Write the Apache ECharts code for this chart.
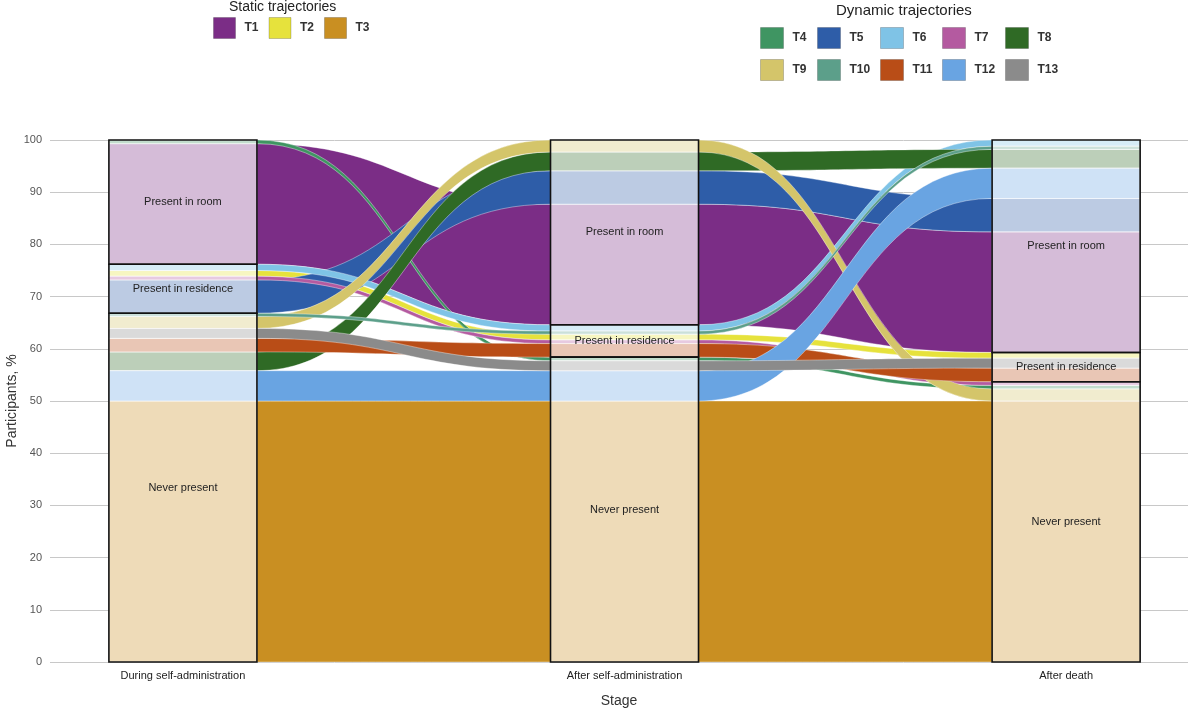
<!DOCTYPE html>
<html>
<head>
<meta charset="utf-8">
<script src="https://cdn.jsdelivr.net/npm/echarts@6/dist/echarts.min.js"></script>
<style>
  html, body { margin: 0; padding: 0; background: #fff; }
  #chart { width: 1200px; height: 714px; }
</style>
</head>
<body>
<div id="chart"></div>
<script>
// stages (x) and states inside each bar
var stages = ['During self-administration', 'After self-administration', 'After death'];
var states = ['Never present', 'Present in residence', 'Present in room'];

// trajectories: share of participants (%) and state at each stage (0 never, 1 residence, 2 room)
var trajNames = ['T1', 'T2', 'T3', 'T4', 'T5', 'T6', 'T7', 'T8', 'T9', 'T10', 'T11', 'T12', 'T13'];
var trajValues = [23.1, 1.1, 50, 0.7, 6.4, 1.2, 0.7, 3.6, 2.3, 0.6, 2.6, 5.8, 1.9];
var trajStates = [
    [2, 2, 2], [1, 1, 1], [0, 0, 0], [2, 0, 0], [1, 2, 2], [1, 1, 2], [1, 1, 0],
    [0, 2, 2], [0, 2, 0], [0, 1, 2], [0, 1, 1], [0, 0, 2], [0, 0, 1]
];
var trajColors = ['#7b2d86', '#e6e23c', '#c98f22', '#3f9562', '#2e5da8', '#7fc3e6', '#b45aa0',
    '#2f6a25', '#d4c56a', '#5c9f8a', '#b94d17', '#69a4e2', '#8b8b8b'];

// stacking order inside each bar, bottom to top (trajectory numbers)
var stackOrder = [
    [3, 12, 8, 11, 13, 9, 10, 5, 7, 2, 6, 1, 4],
    [3, 12, 13, 4, 11, 7, 2, 10, 6, 1, 5, 8, 9],
    [3, 9, 4, 7, 11, 13, 2, 1, 5, 12, 8, 10, 6]
];

// legend groups
var legendStatic = ['T1', 'T2', 'T3'];
var legendDynCols = [['T4', 'T9'], ['T5', 'T10'], ['T6', 'T11'], ['T7', 'T12'], ['T8', 'T13']];
var legendDynLeft = [760, 817, 880, 942, 1005];

var hw = 0.1676; // half width of a bar in x units

function light(hex, a) {
    var r = parseInt(hex.substr(1, 2), 16), g = parseInt(hex.substr(3, 2), 16), b = parseInt(hex.substr(5, 2), 16);
    var m = function (c) { return Math.round(c * a + 255 * (1 - a)); };
    return 'rgb(' + m(r) + ',' + m(g) + ',' + m(b) + ')';
}

// positions of every trajectory inside every bar
var pos = stackOrder.map(function (order) {
    var y = 0, p = {};
    order.forEach(function (t) {
        var i = t - 1;
        p[i] = [y, y + trajValues[i]];
        y += trajValues[i];
    });
    return p;
});

var segData = [];
pos.forEach(function (p, k) {
    for (var i in p) segData.push([k, p[i][0], p[i][1], +i]);
});

var blockData = [];
pos.forEach(function (p, k) {
    states.forEach(function (s, si) {
        var lo = 1e9, hi = -1e9;
        trajStates.forEach(function (st, i) {
            if (st[k] === si) { lo = Math.min(lo, p[i][0]); hi = Math.max(hi, p[i][1]); }
        });
        blockData.push([k, lo, hi, si]);
    });
});

function renderFlow(params, api) {
    var k = api.value(0);
    var xa = k + hw, xb = k + 1 - hw;
    var a0 = api.coord([xa, api.value(2)]), a1 = api.coord([xa, api.value(3)]);
    var b0 = api.coord([xb, api.value(4)]), b1 = api.coord([xb, api.value(5)]);
    var mx = (a0[0] + b0[0]) / 2;
    var d = 'M' + a1[0] + ',' + a1[1] +
        ' C' + mx + ',' + a1[1] + ' ' + mx + ',' + b1[1] + ' ' + b1[0] + ',' + b1[1] +
        ' L' + b0[0] + ',' + b0[1] +
        ' C' + mx + ',' + b0[1] + ' ' + mx + ',' + a0[1] + ' ' + a0[0] + ',' + a0[1] + ' Z';
    return {
        type: 'path',
        shape: { pathData: d },
        style: { fill: api.visual('color'), stroke: 'rgba(255,255,255,0.55)', lineWidth: 0.7 }
    };
}

function renderSeg(params, api) {
    var k = api.value(0);
    var p0 = api.coord([k - hw, api.value(2)]);
    var p1 = api.coord([k + hw, api.value(1)]);
    return {
        type: 'rect',
        shape: { x: p0[0], y: p0[1], width: p1[0] - p0[0], height: p1[1] - p0[1] },
        style: { fill: light(trajColors[api.value(3)], 0.32), stroke: '#fff', lineWidth: 0.6 }
    };
}

function renderBlock(params, api) {
    var k = api.value(0);
    var p0 = api.coord([k - hw, api.value(2)]);
    var p1 = api.coord([k + hw, api.value(1)]);
    return {
        type: 'group',
        children: [{
            type: 'rect',
            shape: { x: p0[0], y: p0[1], width: p1[0] - p0[0], height: p1[1] - p0[1] },
            style: { fill: 'none', stroke: '#111', lineWidth: 1.6 }
        }, {
            type: 'text',
            style: {
                text: states[api.value(3)], x: (p0[0] + p1[0]) / 2, y: (p0[1] + p1[1]) / 2,
                align: 'center', verticalAlign: 'middle', fill: '#222', fontSize: 11,
                fontFamily: 'Liberation Sans'
            }
        }]
    };
}

var series = [{
    type: 'custom',
    name: 'segments',
    renderItem: renderSeg,
    encode: { x: 0, y: [1, 2] },
    data: segData,
    z: 1
}];

trajNames.forEach(function (name, i) {
    var flows = [];
    for (var k = 0; k < 2; k++) {
        flows.push([k, k + 1, pos[k][i][0], pos[k][i][1], pos[k + 1][i][0], pos[k + 1][i][1]]);
    }
    series.push({
        type: 'custom',
        name: name,
        renderItem: renderFlow,
        encode: { x: [0, 1], y: [2, 3, 4, 5] },
        itemStyle: { color: trajColors[i] },
        data: flows,
        z: 2
    });
});

series.push({
    type: 'custom',
    name: 'blocks',
    renderItem: renderBlock,
    encode: { x: 0, y: [1, 2] },
    data: blockData,
    z: 3
});

var legendBase = {
    icon: 'rect',
    selectedMode: false,
    itemWidth: 23,
    itemHeight: 21,
    padding: 0,
    itemStyle: { borderColor: 'rgba(0,0,0,0.2)', borderWidth: 1 },
    textStyle: { fontSize: 12, fontWeight: 'bold', color: '#333', padding: [0, 0, 0, 4] }
};

var legends = [Object.assign({}, legendBase, {
    data: legendStatic, left: 213, top: 17, orient: 'horizontal', itemGap: 10, itemWidth: 22
})];
legendDynCols.forEach(function (col, c) {
    legends.push(Object.assign({}, legendBase, {
        data: col, left: legendDynLeft[c], top: 27, orient: 'vertical', itemGap: 10
    }));
});

var myChart = echarts.init(document.getElementById('chart'));
var option = {
    animation: false,
    textStyle: { fontFamily: 'Liberation Sans' },
    title: [{
        text: 'Static trajectories', left: 229, top: 0, padding: 0,
        textStyle: { fontSize: 14, fontWeight: 'normal', color: '#222' }
    }, {
        text: 'Dynamic trajectories', left: 836, top: 3, padding: 0,
        textStyle: { fontSize: 15, fontWeight: 'normal', color: '#222' }
    }],
    legend: legends,
    grid: { left: 50, right: 12, top: 140, bottom: 52, outerBoundsMode: 'none', containLabel: false },
    xAxis: {
        type: 'value',
        min: -0.301,
        max: 2.276,
        splitLine: { show: false },
        axisLine: { show: false },
        axisTick: { show: false },
        axisLabel: {
            customValues: [0, 1, 2],
            formatter: function (v) { return stages[Math.round(v)]; },
            color: '#222', fontSize: 11, margin: 8
        },
        name: 'Stage',
        nameLocation: 'middle',
        nameGap: 32,
        nameTextStyle: { fontSize: 14, color: '#333' }
    },
    yAxis: {
        type: 'value',
        min: 0,
        max: 100,
        interval: 10,
        splitLine: { lineStyle: { color: '#c8c8c8' } },
        axisLine: { show: false },
        axisTick: { show: false },
        axisLabel: { color: '#555', fontSize: 11, margin: 8 },
        name: 'Participants, %',
        nameLocation: 'middle',
        nameGap: 31,
        nameMoveOverlap: false,
        nameTextStyle: { fontSize: 14, color: '#333' }
    },
    series: series
};
myChart.setOption(option);
</script>
</body>
</html>
